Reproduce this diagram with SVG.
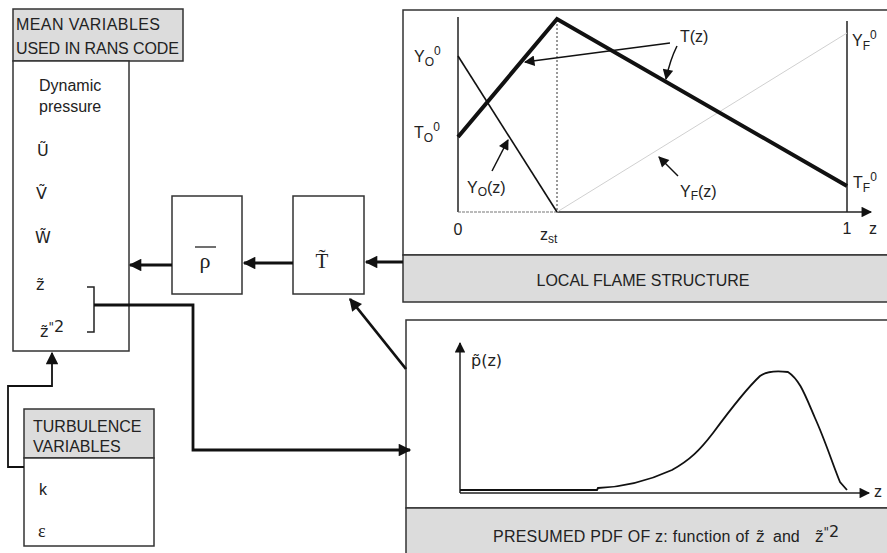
<svg xmlns="http://www.w3.org/2000/svg" width="887" height="553" viewBox="0 0 887 553">
<style>
.box{fill:#fff;stroke:#333;stroke-width:1.5}
.hdr{fill:#dcdcdc;stroke:#333;stroke-width:1.5}
.t{font-family:"Liberation Sans","DejaVu Sans",sans-serif;font-size:16px;fill:#222}
.tl{font-family:"DejaVu Sans","Liberation Sans",sans-serif;font-size:16px;fill:#222}
.s{font-family:"Liberation Serif","DejaVu Serif",serif;fill:#222}
.c{fill:none;stroke:#111;stroke-width:2.8}
.ax{fill:none;stroke:#222;stroke-width:1.5}
.sub{font-size:12px}
</style>
<defs>
<marker id="ah" viewBox="0 0 10 10" refX="9" refY="5" markerWidth="5" markerHeight="4.5" orient="auto" markerUnits="strokeWidth">
<path d="M0,0 L10,5 L0,10 z" fill="#111"/>
</marker>
<marker id="ahs" viewBox="0 0 10 10" refX="9" refY="5" markerWidth="9" markerHeight="7" orient="auto" markerUnits="strokeWidth">
<path d="M0,0 L10,5 L0,10 z" fill="#111"/>
</marker>
</defs>

<g id="mean-variables">
<rect class="hdr" x="13" y="9" width="170" height="52"/>
<rect class="box" x="13" y="61" width="116" height="290"/>
<text class="t" x="16" y="30" textLength="144">MEAN VARIABLES</text>
<text class="t" x="16" y="54" textLength="163">USED IN RANS CODE</text>
<text class="t" x="39" y="91">Dynamic</text>
<text class="t" x="39" y="112">pressure</text>
<text class="tl" x="37" y="156" font-size="18">Ũ</text>
<text class="tl" x="36" y="199" font-size="18">Ṽ</text>
<text class="tl" x="35" y="243" font-size="18">W̃</text>
<text class="tl" x="36" y="290" font-size="18">z̃</text>
<text class="tl" x="40" y="337" font-size="18">z̃<tspan font-size="12" dy="-6">"</tspan><tspan font-size="16" dy="1">2</tspan></text>
<path class="ax" d="M87 287 H94 V332 H87"/>
</g>

<g id="turbulence-variables">
<rect class="hdr" x="24" y="409" width="130" height="49"/>
<rect class="box" x="24" y="458" width="130" height="88"/>
<text class="t" x="33" y="432">TURBULENCE</text>
<text class="t" x="33" y="452">VARIABLES</text>
<text class="t" x="39" y="495">k</text>
<text class="s" x="38" y="537" font-size="18">ε</text>
</g>

<g id="rho">
<rect class="box" x="172" y="196" width="70" height="98"/>
<line x1="195" y1="247" x2="216" y2="247" stroke="#222" stroke-width="1.3"/>
<text class="s" x="205" y="268" font-size="22" text-anchor="middle">ρ</text>
</g>

<g id="T-mean">
<rect class="box" x="293" y="196" width="71" height="98"/>
<text class="s" x="322" y="268" font-size="21" text-anchor="middle">T̃</text>
</g>

<g id="local-flame-structure">
<rect class="box" x="403" y="10" width="492" height="245"/>
<rect class="hdr" x="403" y="255" width="492" height="47"/>
<text class="t" x="643" y="286" text-anchor="middle" textLength="213">LOCAL FLAME STRUCTURE</text>
<line class="ax" x1="458" y1="17" x2="458" y2="212"/>
<line x1="458" y1="212" x2="557" y2="212" stroke="#777" stroke-width="1.2" stroke-dasharray="3 1"/>
<line class="ax" x1="557" y1="212" x2="871" y2="212" marker-end="url(#ahs)"/>
<line class="ax" x1="847" y1="21" x2="847" y2="212"/>
<line x1="557" y1="20" x2="557" y2="212" stroke="#333" stroke-width="1" stroke-dasharray="2 2"/>
<line x1="557" y1="212" x2="847" y2="33" stroke="#d0d0d0" stroke-width="1"/>
<line x1="458" y1="56" x2="557" y2="212" stroke="#111" stroke-width="1.6"/>
<polyline points="458,137 557,19 847,186" fill="none" stroke="#111" stroke-width="4" stroke-linejoin="miter"/>
<line x1="670" y1="43" x2="525" y2="62" stroke="#111" stroke-width="1.5" marker-end="url(#ahs)"/>
<path d="M677 46 Q670 60 666 79" fill="none" stroke="#111" stroke-width="1.5" marker-end="url(#ahs)"/>
<line x1="492" y1="171" x2="508" y2="140" stroke="#111" stroke-width="1.5" marker-end="url(#ahs)"/>
<line x1="678" y1="176" x2="659" y2="157" stroke="#111" stroke-width="1.5" marker-end="url(#ahs)"/>
<text class="t" x="414" y="62">Y<tspan class="sub" dy="4">O</tspan><tspan class="sub" dy="-11">0</tspan></text>
<text class="t" x="414" y="138">T<tspan class="sub" dy="4">O</tspan><tspan class="sub" dy="-11">0</tspan></text>
<text class="t" x="467" y="193">Y<tspan class="sub" dy="3">O</tspan><tspan dy="-3">(z)</tspan></text>
<text class="t" x="680" y="42">T(z)</text>
<text class="t" x="680" y="197">Y<tspan class="sub" dy="3">F</tspan><tspan dy="-3">(z)</tspan></text>
<text class="t" x="852" y="46">Y<tspan class="sub" dy="4">F</tspan><tspan class="sub" dy="-11">0</tspan></text>
<text class="t" x="853" y="188">T<tspan class="sub" dy="4">F</tspan><tspan class="sub" dy="-11">0</tspan></text>
<text class="t" x="458" y="235" text-anchor="middle">0</text>
<text class="t" x="540" y="240">z<tspan class="sub" dy="3" font-size="14">st</tspan></text>
<text class="t" x="847" y="234" text-anchor="middle">1</text>
<text class="t" x="869" y="234">z</text>
</g>

<g id="presumed-pdf">
<rect class="box" x="406" y="320" width="489" height="188"/>
<rect class="hdr" x="406" y="508" width="489" height="50"/>
<line class="ax" x1="460" y1="493" x2="460" y2="343" marker-end="url(#ahs)"/>
<line class="ax" x1="460" y1="493" x2="869" y2="493" marker-end="url(#ahs)"/>
<path d="M460 490 H597 L598 488 C625 487 650 480 672 470 C690 460 700 450 713 433 C730 410 745 390 760 376 C768 370 780 371 788 372 C800 380 805 395 815 418 C825 440 833 465 840 482 L847 490" fill="none" stroke="#111" stroke-width="1.8"/>
<text class="tl" x="471" y="366">p̃(z)</text>
<text class="t" x="874" y="497">z</text>
<text class="t" x="493" y="542"><tspan textLength="256">PRESUMED PDF OF z: function of</tspan></text>
<text class="tl" x="756" y="542">z̃</text>
<text class="t" x="773" y="542">and</text>
<text class="tl" x="815" y="542">z̃<tspan font-size="12" dy="-6">"</tspan><tspan dy="1">2</tspan></text>
</g>

<g id="connectors">
<line class="c" x1="403" y1="262" x2="366" y2="262" marker-end="url(#ah)"/>
<line class="c" x1="293" y1="263" x2="244" y2="263" marker-end="url(#ah)"/>
<line class="c" x1="172" y1="265" x2="130" y2="265" marker-end="url(#ah)"/>
<line class="c" x1="406" y1="369" x2="350" y2="299" marker-end="url(#ah)"/>
<path class="c" d="M94 305 H193 V450 H410" marker-end="url(#ah)"/>
<path d="M24 467 H8 V386 H52 V353" fill="none" stroke="#111" stroke-width="1.8" marker-end="url(#ahs)"/>
</g>
</svg>
